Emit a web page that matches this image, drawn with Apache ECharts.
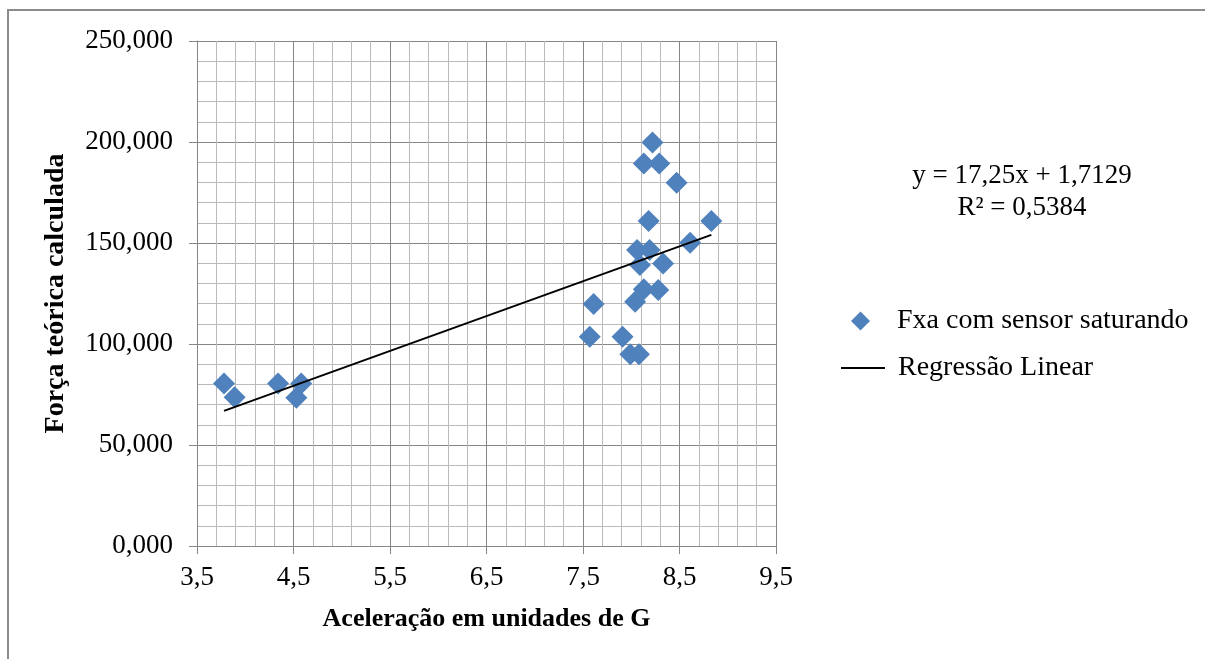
<!DOCTYPE html>
<html>
<head>
<meta charset="utf-8">
<title>Força teórica x Aceleração</title>
<script src="https://cdn.jsdelivr.net/npm/echarts@6/dist/echarts.min.js"></script>
<style>
  html, body { margin: 0; padding: 0; background: #ffffff; }
  #chart { width: 1205px; height: 659px; }
</style>
</head>
<body>
<div id="chart"></div>
<script>
// Measured acceleration (G) and computed theoretical force for each test
const acceleration = [3.78, 3.89, 4.34, 4.53, 4.58, 7.57, 7.61, 7.91, 7.99, 8.08,
                      8.04, 8.13, 8.28, 8.09, 8.33, 8.06, 8.19, 8.18, 8.83, 8.61,
                      8.13, 8.29, 8.47, 8.22];
const force = [80.5, 73.6, 80.5, 73.4, 80.5, 103.6, 119.8, 103.6, 94.9, 94.9,
               120.9, 127.1, 126.7, 139.1, 139.9, 146.5, 146.5, 160.9, 160.9, 150.1,
               189.4, 189.4, 179.8, 199.8];

// Linear regression fitted to the data
const slope = 17.25;
const intercept = 1.7129;
const rSquared = 0.5384;

const seriesNames = ['Fxa com sensor saturando', 'Regressão Linear'];
const axisTitles = { x: 'Aceleração em unidades de G', y: 'Força teórica calculada' };

const decimalComma = (v, d) => v.toFixed(d).replace('.', ',');

const points = acceleration.map((a, i) => [a, force[i]]);
const xMin = Math.min(...acceleration);
const xMax = Math.max(...acceleration);
const trend = [xMin, xMax].map(x => [x, slope * x + intercept]);

const serif = '"Liberation Serif", "Times New Roman", serif';
const majorGrid = '#868686';
const minorGrid = '#bababa';

const chart = echarts.init(document.getElementById('chart'), null, { renderer: 'canvas' });

chart.setOption({
  animation: false,
  backgroundColor: '#ffffff',
  textStyle: { fontFamily: serif, color: '#000' },
  grid: { left: 197, right: 429, top: 41, bottom: 113, containLabel: false },
  xAxis: {
    type: 'value',
    min: 3.5, max: 9.5, interval: 1,
    name: axisTitles.x,
    nameLocation: 'middle',
    nameGap: 60,
    nameTextStyle: { fontFamily: serif, fontWeight: 'bold', fontSize: 26, color: '#000' },
    axisLine: { show: true, lineStyle: { color: majorGrid, width: 1 } },
    axisTick: { show: true, length: 8, lineStyle: { color: majorGrid } },
    axisLabel: {
      margin: 18, fontFamily: serif, fontSize: 27, color: '#000',
      formatter: v => decimalComma(v, 1)
    },
    splitLine: { show: true, lineStyle: { color: majorGrid, width: 1 } },
    minorTick: { show: false, splitNumber: 5 },
    minorSplitLine: { show: true, lineStyle: { color: minorGrid, width: 1 } }
  },
  yAxis: {
    type: 'value',
    min: 0, max: 250, interval: 50,
    name: axisTitles.y,
    nameLocation: 'middle',
    nameGap: 127,
    nameRotate: 90,
    nameTextStyle: { fontFamily: serif, fontWeight: 'bold', fontSize: 28, color: '#000' },
    axisLine: { show: true, lineStyle: { color: majorGrid, width: 1 } },
    axisTick: { show: true, length: 8, lineStyle: { color: majorGrid } },
    axisLabel: {
      margin: 24, fontFamily: serif, fontSize: 27, color: '#000',
      formatter: v => decimalComma(v, 3)
    },
    splitLine: { show: true, lineStyle: { color: majorGrid, width: 1 } },
    minorTick: { show: false, splitNumber: 5 },
    minorSplitLine: { show: true, lineStyle: { color: minorGrid, width: 1 } }
  },
  legend: [
    {
      data: [seriesNames[0]],
      orient: 'vertical',
      left: 846, top: 302,
      itemWidth: 19, itemHeight: 19,
      icon: 'diamond',
      itemStyle: { opacity: 1 },
      textStyle: { fontFamily: serif, fontSize: 28, color: '#000', padding: [0, 0, 0, 22] }
    },
    {
      data: [seriesNames[1]],
      orient: 'vertical',
      left: 836, top: 349,
      itemWidth: 44, itemHeight: 2,
      icon: 'rect',
      itemStyle: { color: '#000' },
      textStyle: { fontFamily: serif, fontSize: 28, color: '#000', padding: [0, 0, 0, 8] }
    }
  ],
  series: [
    {
      name: seriesNames[0],
      type: 'scatter',
      symbol: 'diamond',
      symbolSize: 22,
      itemStyle: { color: '#4f81bd', opacity: 1 },
      data: points,
      z: 2
    },
    {
      name: seriesNames[1],
      type: 'line',
      symbol: 'none',
      lineStyle: { color: '#000', width: 2 },
      itemStyle: { color: '#000' },
      data: trend,
      z: 3
    }
  ],
  graphic: [
    {
      type: 'rect',
      shape: { x: 8, y: 10, width: 1220, height: 680 },
      style: { fill: 'none', stroke: '#8c8c8c', lineWidth: 2 },
      silent: true
    },
    {
      type: 'text',
      x: 1022, y: 176,
      style: {
        text: 'y = ' + decimalComma(slope, 2) + 'x + ' + decimalComma(intercept, 4),
        font: '27px ' + serif, fill: '#000', align: 'center', verticalAlign: 'middle'
      }
    },
    {
      type: 'text',
      x: 1022, y: 208,
      style: {
        text: 'R² = ' + decimalComma(rSquared, 4),
        font: '27px ' + serif, fill: '#000', align: 'center', verticalAlign: 'middle'
      }
    }
  ]
});
</script>
</body>
</html>
